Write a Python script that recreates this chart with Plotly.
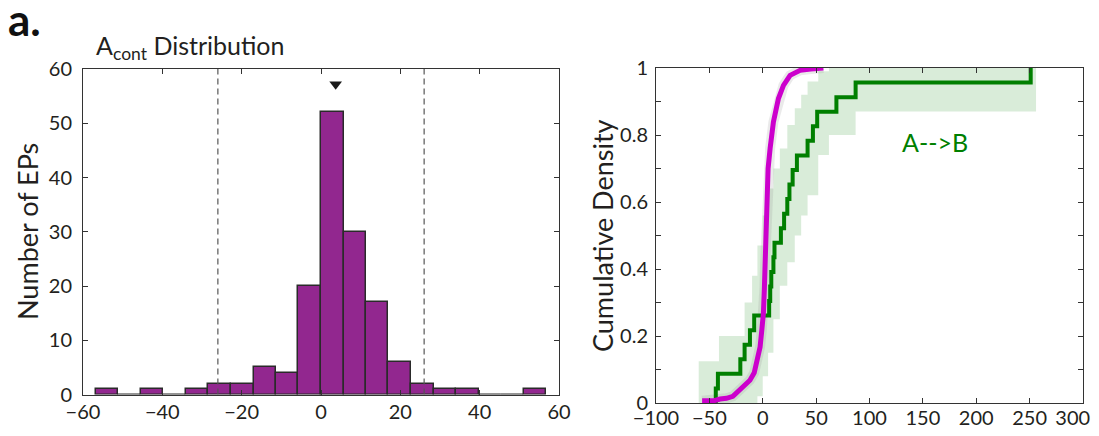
import plotly.graph_objects as go

# ---------------- data ----------------
# Left panel: histogram of A_cont (bin edges and counts)
hist_edges = [-56.8, -51.1, -45.4, -39.8, -34.1, -28.4, -22.7, -17.0, -11.4, -5.7,
              0.0, 5.7, 11.4, 17.0, 22.7, 28.4, 34.1, 39.8, 45.4, 51.1, 56.8]
hist_counts = [1, 0, 1, 0, 1, 2, 2, 5, 4, 20, 52, 30, 17, 6, 2, 1, 1, 0, 0, 1]
dashed_x = [-26.0, 26.0]
marker_x = [3.7]
marker_y = [57.2]

# Right panel: magenta cumulative curve
mag_x = [-56.8, -45.4, -40.0, -34.0, -28.0, -21.0, -17.0, -12.0, -8.0, -5.6, -2.5, -0.9,
         0.6, 1.5, 2.2, 3.0, 3.8, 5.0, 6.9, 10.0, 14.7, 19.4, 25.6, 35.0, 45.0, 56.8]
mag_y = [0.007, 0.007, 0.012, 0.014, 0.02, 0.04, 0.052, 0.068, 0.09, 0.118, 0.167, 0.217,
         0.267, 0.34, 0.416, 0.5, 0.6, 0.7, 0.76, 0.839, 0.909, 0.948, 0.978, 0.993, 0.997, 1.0]

# Right panel: green A-->B values (sorted) for the empirical CDF
green_vals = [-44, -42, -21, -17, -12, -8, 6, 7, 8, 10, 11, 17, 20, 23, 25, 28, 32,
              42, 47, 51, 69, 87, 251]

# Right panel: green confidence band (step intervals)
band_x = [-60, -41, -17, -10, -5, 0, 5, 10, 16, 23, 30, 36, 42, 52, 62, 87, 256]
band_hi = [0.125, 0.20, 0.30, 0.38, 0.47, 0.56, 0.64, 0.70, 0.76, 0.83, 0.88, 0.92,
           0.96, 0.99, 1.0, 1.0]
band_lo = [0.0, 0.0, 0.0, 0.0, 0.02, 0.08, 0.15, 0.25, 0.35, 0.42, 0.50, 0.56,
           0.62, 0.74, 0.80, 0.87]

x_ticks_left = [-60, -40, -20, 0, 20, 40, 60]
y_ticks_left = [0, 10, 20, 30, 40, 50, 60]
x_ticks_right = [-100, -50, 0, 50, 100, 150, 200, 250, 300]
x_labels_right = ["\u2212100", "\u221250", "0", "50", "100", "150", "200", "250",
                  "300\u00a0\u00a0\u00a0\u00a0"]
y_ticks_right = [0, 0.2, 0.4, 0.6, 0.8, 1]

# ---------------- style ----------------
FONT = "Lato"
TXT = "#231f20"
PURPLE = "#92278f"
MAGENTA = "#cc00cc"
GREEN = "#007f00"
W, H = 1091, 420   # figure size (page body margin keeps it inside the window)
OFF = 8            # page body margin (px)


def px(xp):
    return (xp - OFF) / W


def py(yp):
    return 1 - (yp - OFF) / H


fig = go.Figure()

# histogram bars
centers = [(hist_edges[i] + hist_edges[i + 1]) / 2 for i in range(len(hist_counts))]
widths = [hist_edges[i + 1] - hist_edges[i] for i in range(len(hist_counts))]
fig.add_trace(go.Bar(x=centers, y=hist_counts, width=widths,
                     marker=dict(color=PURPLE, line=dict(color="#2a2a2a", width=1.5)),
                     xaxis="x", yaxis="y", showlegend=False))

# dashed vertical lines
for dx in dashed_x:
    fig.add_trace(go.Scatter(x=[dx, dx], y=[0, 60], mode="lines",
                             line=dict(color="#555555", width=1.2, dash="6px,4px"),
                             xaxis="x", yaxis="y", showlegend=False))

# triangle marker
fig.add_trace(go.Scatter(x=marker_x, y=marker_y, mode="markers",
                         marker=dict(symbol="triangle-down", size=11, color="#1a1a1a"),
                         xaxis="x", yaxis="y", showlegend=False))

# green band (step-shaped fill)
fig.add_trace(go.Scatter(x=band_x, y=band_lo + [band_lo[-1]], mode="lines",
                         line=dict(width=0, shape="hv"), xaxis="x2", yaxis="y2",
                         showlegend=False, hoverinfo="skip"))
fig.add_trace(go.Scatter(x=band_x, y=band_hi + [band_hi[-1]], mode="lines",
                         line=dict(width=0, shape="hv"), fill="tonexty",
                         fillcolor="rgba(0,128,0,0.15)", xaxis="x2", yaxis="y2",
                         showlegend=False, hoverinfo="skip"))

# gray halo behind magenta
fig.add_trace(go.Scatter(x=mag_x, y=mag_y, mode="lines",
                         line=dict(color="rgba(150,150,150,0.20)", width=10),
                         xaxis="x2", yaxis="y2", showlegend=False))

# green empirical CDF
n = len(green_vals)
gx = [green_vals[0]] + green_vals
gy = [0] + [(i + 1) / n for i in range(n)]
fig.add_trace(go.Scatter(x=gx, y=gy, mode="lines",
                         line=dict(color=GREEN, width=4, shape="hv"),
                         xaxis="x2", yaxis="y2", showlegend=False))

# magenta curve
fig.add_trace(go.Scatter(x=mag_x, y=mag_y, mode="lines",
                         line=dict(color=MAGENTA, width=5),
                         xaxis="x2", yaxis="y2", showlegend=False))

axis_common = dict(showgrid=False, zeroline=False, showline=True, linecolor="#333333",
                   linewidth=1, mirror="ticks", ticks="inside", ticklen=5,
                   tickcolor="#333333", automargin=False,
                   tickfont=dict(family=FONT, size=20, color=TXT))

fig.update_layout(
    template="none",
    width=W, height=H, autosize=False,
    margin=dict(l=0, r=0, t=0, b=0, pad=0),
    paper_bgcolor="white", plot_bgcolor="white",
    bargap=0,
    xaxis=dict(domain=[px(83), px(559)], range=[-60, 60], tickvals=x_ticks_left,
               anchor="y", ticklabelstandoff=-1, ticklabeloverflow="allow",
               **axis_common),
    yaxis=dict(domain=[py(394.5), py(69)], range=[0, 60], tickvals=y_ticks_left,
               anchor="x", ticklabelstandoff=6, **axis_common),
    xaxis2=dict(domain=[px(656), px(1083)], range=[-100, 300], tickvals=x_ticks_right,
                ticktext=x_labels_right, anchor="y2", ticklabelstandoff=-3,
                ticklabeloverflow="allow", **axis_common),
    yaxis2=dict(domain=[py(403), py(68)], range=[0, 1], tickvals=y_ticks_right,
                anchor="x2", ticklabelstandoff=3,
                minor=dict(dtick=0.1, ticks="inside", ticklen=5, tickcolor="#333333"),
                **axis_common),
    annotations=[
        dict(text="<b>a.</b>", x=px(6), y=py(-9), xref="paper", yref="paper",
             xanchor="left", yanchor="top", showarrow=False,
             font=dict(family=FONT, size=44, color="#111111")),
        dict(text="A<sub>cont</sub> Distribution", x=px(94), y=py(66),
             xref="paper", yref="paper", xanchor="left", yanchor="bottom",
             showarrow=False, font=dict(family=FONT, size=25, color=TXT)),
        dict(text="Number of EPs", x=px(27), y=py(232), xref="paper",
             yref="paper", textangle=-90, showarrow=False,
             xanchor="center", yanchor="middle",
             font=dict(family=FONT, size=27, color=TXT)),
        dict(text="Cumulative Density", x=px(603), y=py(236), xref="paper",
             yref="paper", textangle=-90, showarrow=False,
             xanchor="center", yanchor="middle",
             font=dict(family=FONT, size=27, color=TXT)),
        dict(text="A-->B", x=161, y=0.78, xref="x2", yref="y2", showarrow=False,
             font=dict(family=FONT, size=25, color=GREEN)),
    ],
)

fig.write_html("out.html")
